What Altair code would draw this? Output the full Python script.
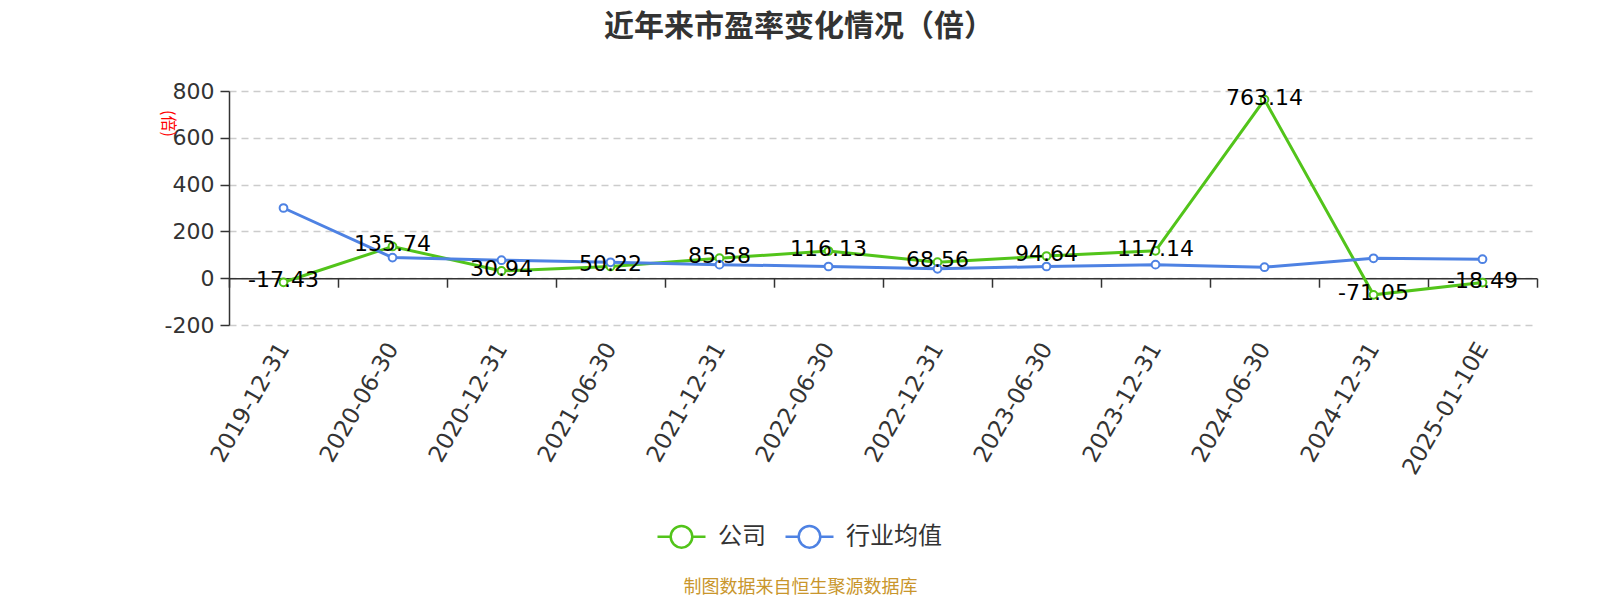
import altair as alt
import pandas as pd

dates = ["2019-12-31", "2020-06-30", "2020-12-31", "2021-06-30", "2021-12-31", "2022-06-30",
         "2022-12-31", "2023-06-30", "2023-12-31", "2024-06-30", "2024-12-31", "2025-01-10E"]
company = [-17.43, 135.74, 30.94, 50.22, 85.58, 116.13, 68.56, 94.64, 117.14, 763.14, -71.05, -18.49]
industry = [300, 88, 77, 68, 58, 50, 40, 50, 58, 47, 85, 81]
series_names = ["公司", "行业均值"]
colors = ["#52C41A", "#4E82E3"]
y_ticks = [-200, 0, 200, 400, 600, 800]

rows = []
for d, v in zip(dates, company):
    rows.append({"date": d, "series": series_names[0], "value": v, "label": f"{v:.2f}"})
for d, v in zip(dates, industry):
    rows.append({"date": d, "series": series_names[1], "value": v, "label": ""})
df = pd.DataFrame(rows)

W, H = 1308, 234
FONT = "Noto Sans CJK SC"
NUMFONT = "DejaVu Sans"
SYM = "M-1,0L-0.45,0M0.45,0L1,0M-0.45,0A0.45,0.45 0 1,1 0.45,0A0.45,0.45 0 1,1 -0.45,0Z"

x = alt.X(
    "date:N", sort=dates,
    scale=alt.Scale(type="band", paddingInner=0, paddingOuter=0),
    axis=alt.Axis(
        title="制图数据来自恒生聚源数据库", titleColor="#C9962C", titleFontSize=18,
        titleFontWeight="normal", titleFont=FONT, titleX=571, titleY=309,
        titleAlign="center", titleBaseline="middle", titleAngle=0,
        labelAngle=-60, labelAlign="right", labelBaseline="middle", labelFontSize=23,
        labelFont=NUMFONT, labelColor="#333333", labelPadding=57, labelOverlap=False,
        tickBand="extent", tickSize=9, tickColor="#333333", tickWidth=1.5,
        domainColor="#333333", domainWidth=1.5, offset=-H * 0.2, grid=False,
    ),
)
y = alt.Y(
    "value:Q",
    scale=alt.Scale(domain=[-200, 800], nice=False, zero=False),
    axis=alt.Axis(
        values=y_ticks, title="(倍)", titleColor="red", titleFontSize=16, titleFont=FONT,
        titleFontWeight="normal", titleAngle=90, titleX=-62, titleY=32,
        titleAlign="center", titleBaseline="middle",
        labelFontSize=22, labelFont=NUMFONT, labelColor="#333333", labelPadding=6,
        labelExpr="datum.value + ''",
        tickSize=9, tickColor="#333333", tickWidth=1.5,
        domainColor="#333333", domainWidth=1.5,
        grid=True, gridDash=[7, 5], gridColor="#cccccc", gridWidth=1.5,
    ),
)
color = alt.Color(
    "series:N",
    scale=alt.Scale(domain=series_names, range=colors),
    legend=alt.Legend(
        title=None, orient="none", legendX=427, legendY=420, direction="horizontal",
        symbolType=SYM, symbolSize=2304, symbolStrokeWidth=2.5, symbolFillColor="white",
        labelFontSize=24, labelFont=FONT, labelColor="#333333", labelOffset=11,
        columnPadding=14, padding=0,
    ),
)

base = alt.Chart(df).encode(x=x, y=y)
lines = base.mark_line(strokeWidth=3).encode(color=color)
points = base.mark_point(filled=False, fill="white", size=60, strokeWidth=2, opacity=1).encode(color=color)
labels = base.transform_filter(alt.datum.series == series_names[0]).mark_text(
    fontSize=22, font=NUMFONT, color="black", baseline="middle", dy=-2
).encode(text="label:N")

chart = alt.layer(lines, points, labels).properties(
    width=W, height=H,
    padding={"left": 221, "top": 83, "right": 55, "bottom": 275},
    autosize=alt.AutoSizeParams(type="none"),
    title=alt.TitleParams(
        "近年来市盈率变化情况（倍）", fontSize=30, fontWeight="bold", color="#333333",
        font=FONT, anchor="middle", frame="group", dx=-84, offset=38,
    ),
).configure_view(stroke=None)

chart.save("out.html", embed_options={"renderer": "svg", "actions": False})
